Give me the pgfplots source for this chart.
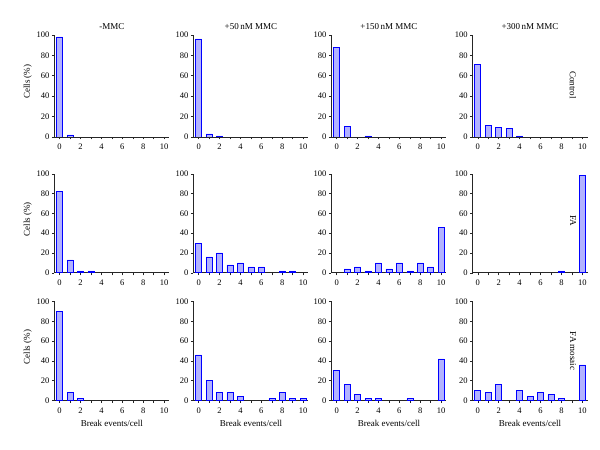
\documentclass[border=0pt]{standalone}
\usepackage{pgfplots}
\pgfplotsset{compat=1.18}
\usepackage{fontspec}
\setmainfont{Liberation Serif}
\definecolor{barfill}{RGB}{155,155,240}
\definecolor{baredge}{RGB}{30,30,70}
\pgfplotsset{
  panel/.style={
    scale only axis, width=115pt,
    xmin=-0.5, xmax=10.5, ymin=0, ymax=100,
    axis x line*=bottom, axis y line*=left,
    x axis line style={-}, y axis line style={-},
    axis line style={black!85, line width=0.6pt},
    ytick={0,20,...,100},
    xtick={0,...,10}, xticklabels={0,,2,,4,,6,,8,,10},
    tick align=outside, major tick length=2.5pt,
    tick style={black!85, line width=0.5pt},
    ybar, bar width=6pt, bar shift=0pt,
    /pgf/number format/assume math mode=true,
    ticklabel style={font=\fontsize{8.5}{10}\selectfont},
    yticklabel style={xshift=1pt},
    xticklabel style={yshift=-1pt},
    title style={font=\fontsize{9}{11}\selectfont, yshift=-4.5pt},
    label style={font=\fontsize{9}{11}\selectfont},
    every axis plot/.append style={fill=barfill, draw=baredge, line width=0.6pt},
    anchor=south west,
  },
  r1/.style={height=102pt},
  r2/.style={height=99pt},
  r3/.style={height=99pt, xlabel={Break events/cell}},
  c1/.style={ylabel={Cells (\%)}, ylabel style={yshift=-2pt, xshift=4pt}},
}
\begin{document}
\begin{tikzpicture}[x=1pt,y=1pt]
\path[use as bounding box] (0,0) rectangle (600,450);
% Row 1: Control
\begin{axis}[panel, r1, c1, at={(52,307)}, title={-MMC}]
\addplot coordinates {(0,98) (1,2)};
\end{axis}
\begin{axis}[panel, r1, at={(185,307)}, title={+50\,nM MMC}]
\addplot coordinates {(0,96) (1,3) (2,1)};
\end{axis}
\begin{axis}[panel, r1, at={(317,307)}, title={+150\,nM MMC}]
\addplot coordinates {(0,88) (1,10) (3,1)};
\end{axis}
\begin{axis}[panel, r1, at={(452,307)}, title={+300\,nM MMC}]
\addplot coordinates {(0,71) (1,11) (2,9) (3,8) (4,1)};
\end{axis}
% Row 2: FA
\begin{axis}[panel, r2, c1, at={(52,179)}]
\addplot coordinates {(0,82) (1,13) (2,2) (3,2)};
\end{axis}
\begin{axis}[panel, r2, at={(185,179)}]
\addplot coordinates {(0,30) (1,16) (2,20) (3,8) (4,10) (5,6) (6,6) (8,2) (9,2)};
\end{axis}
\begin{axis}[panel, r2, at={(317,179)}]
\addplot coordinates {(1,4) (2,6) (3,2) (4,10) (5,4) (6,10) (7,2) (8,10) (9,6) (10,46)};
\end{axis}
\begin{axis}[panel, r2, at={(452,179)}]
\addplot coordinates {(8,2) (10,98)};
\end{axis}
% Row 3: FA mosaic
\begin{axis}[panel, r3, c1, at={(52,50)}]
\addplot coordinates {(0,90) (1,8) (2,2)};
\end{axis}
\begin{axis}[panel, r3, at={(185,50)}]
\addplot coordinates {(0,46) (1,20) (2,8) (3,8) (4,4) (7,2) (8,8) (9,2) (10,2)};
\end{axis}
\begin{axis}[panel, r3, at={(317,50)}]
\addplot coordinates {(0,30) (1,16) (2,6) (3,2) (4,2) (7,2) (10,42)};
\end{axis}
\begin{axis}[panel, r3, at={(452,50)}]
\addplot coordinates {(0,10) (1,8) (2,16) (4,10) (5,4) (6,8) (7,6) (8,2) (10,36)};
\end{axis}
% Row labels
\node[rotate=-90, font=\fontsize{9}{11}\selectfont] at (573,365) {Control};
\node[rotate=-90, font=\fontsize{9}{11}\selectfont] at (573,229) {FA};
\node[rotate=-90, font=\fontsize{9}{11}\selectfont] at (573,99) {FA mosaic};
\end{tikzpicture}
\end{document}
